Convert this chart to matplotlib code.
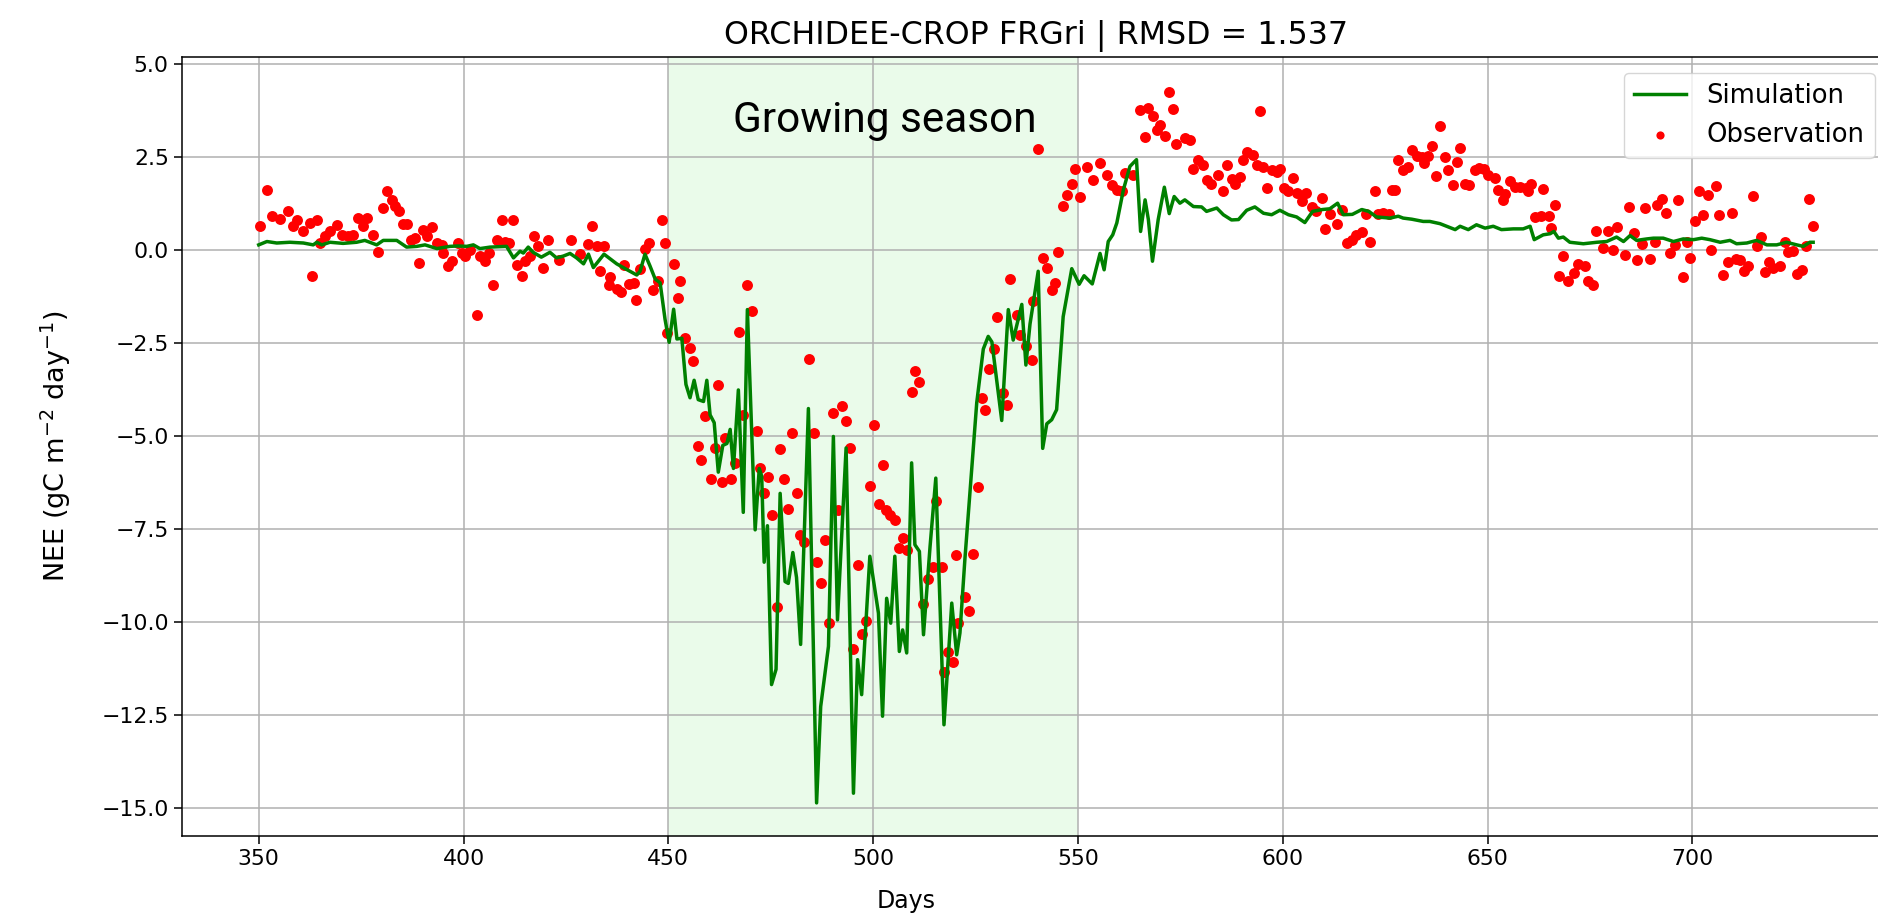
import matplotlib
matplotlib.use("Agg")
import matplotlib.pyplot as plt

# ---------------- data ----------------
sim_days = [350, 352, 354.4, 357.6, 360.9, 363.3, 364.2, 365.4, 367.4, 370.6, 373.9, 375.9,
            378.8, 380.4, 383.7, 386.1, 388.6, 390.6, 393.5, 396.7, 398.7, 400.8, 402.4, 404.0,
            406.5, 410.5, 412.2, 413.8, 414.6, 415.8, 417.0, 419.0, 421.1, 422.7, 424.4, 426.0,
            427.6, 429.3, 430.5, 431.7, 434.3, 437.4, 439.8, 442.3, 443.1, 444.3, 445.5, 446.8,
            448.0, 449.2, 450.2, 451.3, 452.1, 453.3, 454.3, 455.3, 456.3, 457.3, 458.6, 459.4,
            460.2, 461.2, 462.2, 463.3, 464.3, 465.1, 465.9, 467.1, 468.3, 469.3, 470.4, 471.2,
            472.2, 472.8, 473.4, 474.2, 475.2, 476.3, 477.3, 478.5, 479.3, 480.4, 481.3, 482.3,
            484.2, 486.2, 487.2, 489.1, 490.3, 491.3, 493.4, 495.2, 496.2, 497.2, 499.2, 501.3,
            502.3, 503.3, 504.3, 505.3, 506.4, 507.2, 508.2, 509.4, 510.2, 511.3, 512.3, 513.9,
            515.3, 517.3, 519.2, 520.4, 521.2, 522.4, 525.3, 526.9, 528.1, 529.0, 531.4, 533.0,
            534.2, 536.3, 537.3, 538.3, 540.3, 541.4, 542.4, 543.6, 544.8, 546.4, 548.5, 550.3,
            551.5, 553.5, 555.4, 556.4, 557.4, 558.5, 559.5, 561.1, 562.7, 564.3, 565.3, 566.4,
            567.2, 568.2, 569.6, 571.1, 572.3, 573.5, 574.9, 576.1, 578.2, 580.2, 581.4, 583.9,
            585.5, 587.5, 589.2, 591.2, 593.2, 595.3, 597.3, 599.3, 601.4, 603.4, 605.4, 607.3,
            609.7, 611.5, 613.4, 614.8, 617.0, 619.3, 621.0, 622.9, 626.2, 628.2, 629.4, 631.5,
            634.3, 635.9, 638.4, 640.0, 642.1, 643.3, 645.3, 647.3, 649.4, 651.4, 653.4, 656.3,
            658.7, 660.4, 661.4, 663.6, 665.3, 666.2, 667.3, 668.5, 670.1, 673.4, 676.7, 679.1,
            681.5, 683.2, 684.8, 686.4, 688.9, 690.5, 692.9, 695.4, 697.8, 700.3, 702.3, 704.3,
            706.8, 709.2, 710.8, 713.3, 715.7, 718.2, 720.6, 723.0, 725.5, 727.1, 728.7, 729.5]
sim_vals = [0.13, 0.22, 0.18, 0.20, 0.18, 0.13, 0.20, 0.13, 0.20, 0.17, 0.20, 0.25,
            0.13, 0.25, 0.25, 0.07, 0.09, 0.13, 0.03, 0.09, 0.10, 0.09, 0.13, 0.03,
            0.07, 0.09, -0.22, -0.04, -0.09, 0.07, -0.07, -0.20, -0.07, -0.22, -0.17, -0.10,
            -0.22, -0.38, -0.12, -0.48, -0.12, -0.38, -0.53, -0.68, -0.58, -0.12, -0.43, -0.79,
            -0.89, -1.87, -2.49, -1.60, -2.40, -2.38, -3.62, -3.98, -3.51, -4.03, -4.08, -3.51,
            -4.44, -4.65, -5.98, -5.26, -5.21, -4.83, -5.88, -3.77, -7.06, -1.61, -5.06, -7.53,
            -5.88, -6.09, -8.40, -7.42, -11.69, -11.28, -6.55, -8.92, -8.97, -8.14, -8.81, -10.61,
            -4.27, -14.87, -12.28, -10.66, -5.02, -9.95, -5.33, -14.61, -11.02, -11.96, -8.24, -9.77,
            -12.54, -9.37, -10.04, -8.24, -10.80, -10.22, -10.84, -5.73, -7.93, -8.11, -10.35, -7.98,
            -6.14, -12.77, -9.50, -10.89, -10.30, -8.33, -4.11, -2.67, -2.33, -2.48, -4.59, -1.61,
            -2.43, -1.47, -3.10, -2.00, -0.58, -5.34, -4.68, -4.57, -4.30, -1.80, -0.51, -0.93,
            -0.70, -0.92, -0.10, -0.54, 0.22, 0.40, 0.72, 1.61, 2.24, 2.42, 0.49, 1.34,
            0.81, -0.31, 0.81, 1.68, 0.97, 1.43, 1.25, 1.34, 1.16, 1.15, 1.03, 1.12,
            0.94, 0.80, 0.81, 1.06, 1.15, 0.98, 0.94, 1.06, 0.94, 0.88, 0.73, 1.03,
            1.08, 1.10, 1.25, 0.94, 0.95, 1.08, 1.03, 0.88, 0.85, 0.90, 0.85, 0.82,
            0.76, 0.76, 0.70, 0.63, 0.54, 0.63, 0.54, 0.67, 0.58, 0.63, 0.54, 0.56,
            0.56, 0.63, 0.27, 0.40, 0.43, 0.49, 0.31, 0.34, 0.20, 0.16, 0.20, 0.22,
            0.34, 0.22, 0.38, 0.25, 0.29, 0.31, 0.31, 0.22, 0.29, 0.27, 0.31, 0.27,
            0.20, 0.25, 0.16, 0.18, 0.25, 0.13, 0.13, 0.20, 0.13, 0.09, 0.20, 0.20]

obs_days = [350.3, 352.1, 353.2, 355.2, 357.2, 358.4, 359.3, 360.9, 362.4, 363.1, 364.2, 365.0,
            366.2, 367.4, 369.2, 370.3, 371.9, 373.1, 374.3, 375.5, 376.4, 378.0, 379.2, 380.3,
            381.2, 382.5, 383.3, 384.3, 385.3, 386.1, 387.3, 388.2, 389.2, 390.0, 391.0, 392.2,
            393.5, 394.7, 395.1, 396.3, 397.3, 398.7, 399.6, 400.4, 401.6, 403.2, 404.0, 405.2,
            406.3, 407.3, 408.1, 409.3, 410.1, 411.2, 412.2, 413.0, 414.2, 415.0, 416.2, 417.2,
            418.3, 419.3, 420.7, 423.2, 426.2, 428.4, 430.5, 431.3, 432.5, 433.2, 434.3, 435.4,
            435.8, 437.4, 438.4, 439.3, 440.5, 441.5, 442.1, 443.1, 444.3, 445.4, 446.2, 447.6,
            448.4, 449.2, 449.6, 451.3, 452.3, 452.8, 454.1, 455.3, 456.1, 457.3, 458.1, 459.0,
            460.3, 461.4, 462.2, 463.2, 463.8, 465.3, 466.3, 467.3, 468.3, 469.1, 470.4, 471.6,
            472.4, 473.4, 474.4, 475.4, 476.5, 477.3, 478.2, 479.3, 480.3, 481.3, 482.1, 483.2,
            484.4, 485.6, 486.4, 487.2, 488.3, 489.3, 490.3, 491.5, 492.3, 493.4, 494.4, 495.2,
            496.4, 497.2, 498.2, 499.2, 500.2, 501.5, 502.3, 503.1, 504.1, 505.3, 506.4, 507.4,
            508.2, 509.4, 510.2, 511.3, 512.3, 513.5, 514.5, 515.4, 516.7, 517.3, 518.4, 519.6,
            520.2, 520.8, 522.4, 523.3, 524.5, 525.7, 526.5, 527.3, 528.4, 529.4, 530.3, 531.6,
            532.8, 533.4, 535.1, 535.9, 537.3, 538.7, 539.1, 540.3, 541.4, 542.4, 543.6, 544.4,
            545.2, 546.4, 547.4, 548.5, 549.3, 550.5, 552.1, 553.8, 555.4, 557.0, 558.2, 559.5,
            560.7, 561.5, 563.5, 565.2, 566.4, 567.2, 568.4, 569.2, 570.0, 571.3, 572.3, 573.3,
            574.0, 576.1, 577.4, 578.2, 579.4, 580.6, 581.4, 582.6, 584.3, 585.3, 586.3, 587.5,
            588.3, 589.6, 590.4, 591.4, 592.8, 593.6, 594.5, 595.3, 596.2, 597.3, 598.5, 599.3,
            600.3, 601.4, 602.6, 603.4, 604.6, 605.8, 607.1, 608.1, 609.5, 610.3, 611.5, 613.2,
            614.4, 615.6, 616.8, 618.0, 619.3, 620.3, 621.3, 622.5, 623.3, 624.6, 626.0, 626.6,
            627.4, 628.2, 629.4, 630.5, 631.5, 632.7, 633.9, 634.5, 635.5, 636.5, 637.4, 638.4,
            639.6, 640.4, 641.5, 642.5, 643.4, 644.5, 645.6, 646.9, 648.0, 649.1, 650.2, 651.8,
            652.6, 653.7, 654.3, 655.5, 656.7, 657.9, 659.3, 659.9, 660.5, 661.6, 663.0, 663.6,
            664.9, 665.4, 666.5, 667.5, 668.5, 669.7, 671.0, 672.2, 673.8, 674.6, 675.7, 676.5,
            678.1, 679.5, 680.7, 681.7, 683.6, 684.6, 685.8, 686.6, 687.6, 688.5, 689.7, 690.9,
            691.3, 692.5, 693.6, 694.6, 695.8, 696.6, 697.7, 698.6, 699.4, 700.7, 701.7, 702.7,
            703.8, 704.6, 705.8, 706.6, 707.6, 708.6, 709.6, 710.7, 711.6, 712.6, 713.7, 714.7,
            715.7, 716.7, 717.7, 718.8, 719.8, 721.4, 722.6, 723.4, 724.7, 725.5, 726.7, 727.8,
            728.6, 729.5]
obs_vals = [0.65, 1.61, 0.91, 0.83, 1.03, 0.63, 0.81, 0.49, 0.72, -0.72, 0.79, 0.18,
            0.36, 0.49, 0.67, 0.40, 0.36, 0.40, 0.85, 0.63, 0.85, 0.40, -0.07, 1.12,
            1.57, 1.34, 1.18, 1.05, 0.70, 0.70, 0.27, 0.31, -0.36, 0.54, 0.36, 0.61,
            0.18, 0.13, -0.09, -0.45, -0.31, 0.18, -0.09, -0.18, 0.00, -1.75, -0.18, -0.31,
            -0.09, -0.94, 0.27, 0.81, 0.22, 0.18, 0.81, -0.40, -0.72, -0.31, -0.18, 0.36,
            0.09, -0.48, 0.27, -0.27, 0.27, -0.12, 0.14, 0.63, 0.09, -0.58, 0.09, -0.94,
            -0.74, -1.05, -1.15, -0.41, -0.92, -0.89, -1.35, -0.51, 0.03, 0.17, -1.07, -0.84,
            0.81, 0.19, -2.23, -0.38, -1.30, -0.84, -2.38, -2.64, -3.00, -5.29, -5.64, -4.46,
            -6.16, -5.32, -3.64, -6.24, -5.06, -6.16, -5.73, -2.21, -4.44, -0.94, -1.64, -4.87,
            -5.88, -6.53, -6.11, -7.12, -9.60, -5.37, -6.17, -6.96, -4.92, -6.53, -7.68, -7.86,
            -2.93, -4.92, -8.40, -8.95, -7.80, -10.04, -4.39, -6.99, -4.19, -4.60, -5.33, -10.73,
            -8.47, -10.32, -9.99, -6.36, -4.70, -6.83, -5.78, -6.99, -7.12, -7.26, -8.02, -7.75,
            -8.06, -3.83, -3.27, -3.56, -9.52, -8.85, -8.53, -6.75, -8.52, -11.36, -10.82, -11.07,
            -8.21, -10.04, -9.34, -9.72, -8.19, -6.39, -3.99, -4.32, -3.20, -2.67, -1.80, -3.84,
            -4.18, -0.78, -1.76, -2.28, -2.59, -2.96, -1.37, 2.72, -0.22, -0.48, -1.07, -0.89,
            -0.06, 1.17, 1.48, 1.76, 2.16, 1.43, 2.22, 1.87, 2.32, 2.02, 1.75, 1.61,
            1.57, 2.06, 2.02, 3.76, 3.03, 3.81, 3.60, 3.21, 3.36, 3.05, 4.24, 3.78,
            2.84, 3.00, 2.96, 2.17, 2.42, 2.28, 1.88, 1.77, 2.02, 1.59, 2.28, 1.90,
            1.77, 1.95, 2.40, 2.62, 2.55, 2.28, 3.72, 2.22, 1.66, 2.15, 2.08, 2.17,
            1.66, 1.57, 1.93, 1.52, 1.30, 1.52, 1.16, 1.03, 1.39, 0.56, 0.97, 0.70,
            1.06, 0.18, 0.27, 0.40, 0.47, 0.97, 0.22, 1.57, 0.95, 1.00, 0.97, 1.61,
            1.61, 2.42, 2.15, 2.22, 2.69, 2.53, 2.49, 2.33, 2.51, 2.80, 1.99, 3.32,
            2.49, 2.15, 1.75, 2.37, 2.73, 1.77, 1.75, 2.13, 2.20, 2.17, 2.02, 1.93,
            1.61, 1.34, 1.51, 1.86, 1.68, 1.68, 1.66, 1.57, 1.77, 0.88, 0.90, 1.63,
            0.91, 0.58, 1.19, -0.72, -0.18, -0.85, -0.63, -0.38, -0.45, -0.85, -0.94, 0.51,
            0.04, 0.49, 0.00, 0.61, -0.13, 1.16, 0.45, -0.27, 0.16, 1.12, -0.25, 0.22,
            1.21, 1.36, 1.00, -0.09, 0.13, 1.33, -0.73, 0.20, -0.22, 0.76, 1.59, 0.94,
            1.48, 0.00, 1.70, 0.92, -0.67, -0.34, 1.00, -0.25, -0.27, -0.58, -0.45, 1.45,
            0.09, 0.34, -0.61, -0.34, -0.49, -0.45, 0.20, -0.07, -0.04, -0.65, -0.54, 0.09,
            1.37, 0.63]

season_start, season_end = 450, 550
title_text = "ORCHIDEE-CROP FRGri | RMSD = 1.537"
season_label = "Growing season"
x_ticks = [350, 400, 450, 500, 550, 600, 650, 700]
y_ticks = [5.0, 2.5, 0.0, -2.5, -5.0, -7.5, -10.0, -12.5, -15.0]

# ---------------- figure ----------------
W, H = 1878, 918
fig = plt.figure(figsize=(W / 100, H / 100), dpi=100)
ax_left, ax_right, ax_top, ax_bottom = 182, 1890, 57, 836
ax = fig.add_axes([ax_left / W, (H - ax_bottom) / H,
                   (ax_right - ax_left) / W, (ax_bottom - ax_top) / H])

ax.axvspan(season_start, season_end, color="#90ee90", alpha=0.18, lw=0, zorder=0.4)
ax.plot(sim_days, sim_vals, color="green", lw=2.5, label="Simulation", zorder=3)
ax.scatter(obs_days, obs_vals, s=62, color="red", label="Observation", zorder=2.5,
           linewidths=0)

ax.text(502.9, 3.17, season_label, ha="center", va="baseline", fontsize=30.5,
        family=["Roboto", "DejaVu Sans"], zorder=4)

ax.set_xlim(331.27, 331.27 + (ax_right - ax_left) / 4.096)
ax.set_ylim(-15.76, 5.18)
ax.set_xticks(x_ticks)
ax.set_yticks(y_ticks)
ax.tick_params(labelsize=15.8, length=6, width=1.1)
ax.grid(True, color="#b0b0b0", lw=1.1)
for sp in ax.spines.values():
    sp.set_linewidth(1.1)

ax.set_title(title_text, fontsize=22.9, pad=9)
ax.set_xlabel("Days", fontsize=17)
ax.xaxis.label.set_va("center")
ax.xaxis.set_label_coords(0.424, -0.083)
ax.set_ylabel(r"NEE (gC m$^{-2}$ day$^{-1}$)", fontsize=19.5, labelpad=20)

leg = ax.legend(loc="upper right", fontsize=18.6, markerscale=0.75, handlelength=2.0,
                borderaxespad=0.6, framealpha=0.8)
leg.get_frame().set_linewidth(1.0)

fig.savefig("out.png", dpi=100)
